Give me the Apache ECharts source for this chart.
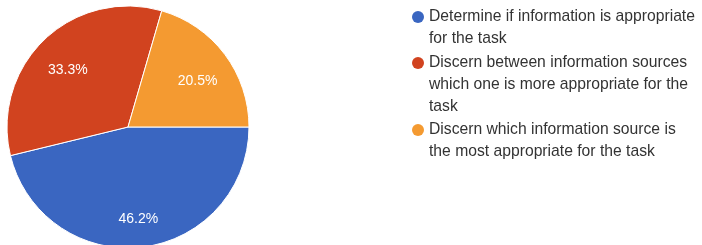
<!DOCTYPE html>
<html>
<head>
<meta charset="utf-8">
<script src="https://cdn.jsdelivr.net/npm/echarts@6/dist/echarts.min.js"></script>
<style>
  html, body { margin: 0; padding: 0; background: #fff; }
  #main { width: 702px; height: 245px; }
</style>
</head>
<body>
<div id="main"></div>
<script>
// data
var names = [
  'Determine if information is appropriate\nfor the task',
  'Discern between information sources\nwhich one is more appropriate for the\ntask',
  'Discern which information source is\nthe most appropriate for the task'
]
var shares = [46.2, 33.3, 20.5]
var colors = ['#3a66c1', '#d1431f', '#f49a31']

var lineH = 22
var legendTops = [6, 52, 119]

var myChart = echarts.init(document.getElementById('main'))

var pieData = names.map(function (n, i) {
  return { name: n, value: shares[i], itemStyle: { color: colors[i] } }
})

// icon box is as tall as the text block, the dot is drawn at its top line
function dotIcon(lines) {
  var h = lines * lineH
  var c = lineH / 2
  return 'path://M0,0M12,' + h + 'M0,' + c + 'A6,6,0,1,0,12,' + c + 'A6,6,0,1,0,0,' + c + 'Z'
}

var legends = names.map(function (n, i) {
  var lines = n.split('\n').length
  return {
    orient: 'vertical',
    left: 412,
    top: legendTops[i],
    padding: 0,
    itemWidth: 12,
    itemHeight: lines * lineH,
    selectedMode: false,
    itemStyle: { borderWidth: 0 },
    data: [{ name: n, icon: dotIcon(lines) }],
    textStyle: {
      fontFamily: 'Liberation Sans, Arial, sans-serif',
      fontSize: 15.7,
      color: '#333333',
      lineHeight: lineH
    }
  }
})

var option = {
  animation: false,
  legend: legends,
  series: [{
    type: 'pie',
    center: [128, 127],
    radius: 121,
    startAngle: 0,
    clockwise: true,
    label: { show: false },
    labelLine: { show: false },
    itemStyle: { borderColor: '#ffffff', borderWidth: 1 },
    data: pieData
  }, {
    // transparent ring only used to place the percentage labels
    type: 'pie',
    center: [128, 127],
    radius: [47, 121],
    startAngle: 0,
    clockwise: true,
    silent: true,
    itemStyle: { color: 'rgba(0,0,0,0)' },
    label: {
      show: true,
      position: 'inside',
      offset: [0, 6],
      formatter: '{c}%',
      color: '#ffffff',
      fontFamily: 'Liberation Sans, Arial, sans-serif',
      fontSize: 14
    },
    labelLine: { show: false },
    data: names.map(function (n, i) { return { name: n, value: shares[i] } })
  }]
}

myChart.setOption(option)
</script>
</body>
</html>
